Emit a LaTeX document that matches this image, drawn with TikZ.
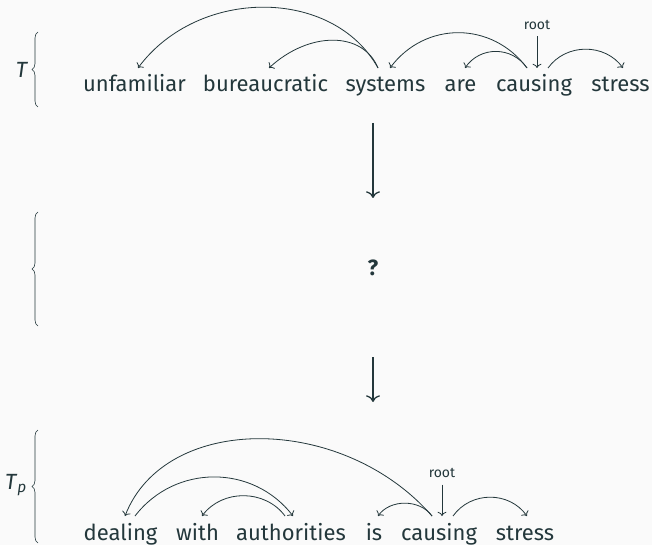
\documentclass[tikz,border=0pt]{standalone}
\usepackage{fontspec}
\setmainfont{Fira Sans}
\usetikzlibrary{calc,decorations.pathreplacing,arrows.meta}
\definecolor{fg}{HTML}{23373B}
\definecolor{bgc}{HTML}{FAFAFA}
\begin{document}
\begin{tikzpicture}[x=1pt,y=-1pt,
  every node/.style={text=fg},
  word/.style={font=\fontsize{22}{26}\selectfont, anchor=base, inner sep=0pt},
  small/.style={font=\fontsize{14}{16}\selectfont, anchor=base, inner sep=0pt},
  arc/.style={draw=fg, line width=0.8pt, -{To[scale=1.25]}},
  bigarr/.style={draw=fg, line width=1.3pt, -{To[scale=1.5]}},
  brc/.style={draw=fg, line width=0.6pt, decorate, decoration={brace, amplitude=6pt}}]
\fill[bgc] (0,0) rectangle (652,545);
\useasboundingbox (0,0) rectangle (652,545);

% top tree
\node[word] (unf) at (134.5,92) {unfamiliar};
\node[word] (bur) at (265.5,92) {bureaucratic};
\node[word] (sys) at (385.5,92) {systems};
\node[word] (are) at (460.5,92) {are};
\node[word] (cau) at (534,92) {causing};
\node[word] (str) at (620.5,92) {stress};
\node[small] (rt1) at (537,29.5) {root};

\draw[arc] ($(sys.base)+(-7.5,-24)$) .. controls +(-45,-81) and +(60,-81) .. ($(unf.base)+(3.5,-24)$);
\draw[arc] ($(sys.base)+(-7.5,-24)$) .. controls +(-15,-37) and +(40,-37) .. ($(bur.base)+(3.5,-24)$);
\draw[arc] ($(cau.base)+(-7,-24)$) .. controls +(-35,-47) and +(35,-47) .. ($(sys.base)+(4.5,-24)$);
\draw[arc] ($(cau.base)+(-7,-24)$) .. controls +(-15,-22) and +(15,-22) .. ($(are.base)+(4.5,-24)$);
\draw[arc] ($(cau.base)+(14,-24)$) .. controls +(18,-25) and +(-18,-25) .. ($(str.base)+(2.5,-24)$);
\draw[arc, shorten <=7pt] (rt1.base) -- ($(cau.base)+(3,-24)$);

% middle
\coordinate (a1s) at (373,123);
\coordinate (a1e) at (373,198);
\node[font=\fontsize{22}{26}\selectfont\bfseries, inner sep=0pt] (q) at (373,268) {?};
\coordinate (a2s) at (373,357);
\coordinate (a2e) at (373,402);
\draw[bigarr] (a1s) -- (a1e);
\draw[bigarr] (a2s) -- (a2e);

% bottom tree
\node[word] (deal) at (120.5,540) {dealing};
\node[word] (wth) at (197.5,540) {with};
\node[word] (auth) at (291,540) {authorities};
\node[word] (is) at (374,540) {is};
\node[word] (cau2) at (439,540) {causing};
\node[word] (str2) at (525,540) {stress};
\node[small] (rt2) at (442,477.5) {root};

\draw[arc] ($(cau2.base)+(-7,-24)$) .. controls +(-90,-103) and +(40,-103) .. ($(deal.base)+(4.5,-24)$);
\draw[arc] ($(deal.base)+(14.5,-24)$) .. controls +(40,-52) and +(-40,-52) .. ($(auth.base)+(2,-24)$);
\draw[arc] ($(auth.base)+(-6,-24)$) .. controls +(-20,-27) and +(20,-27) .. ($(wth.base)+(4.5,-24)$);
\draw[arc] ($(cau2.base)+(-7,-24)$) .. controls +(-12,-17) and +(12,-17) .. ($(is.base)+(4,-24)$);
\draw[arc] ($(cau2.base)+(14,-24)$) .. controls +(18,-25) and +(-18,-25) .. ($(str2.base)+(2,-24)$);
\draw[arc, shorten <=7pt] (rt2.base) -- ($(cau2.base)+(3,-24)$);

% braces and labels
\draw[brc] (38,107) -- (38,32);
\draw[brc] (38,326) -- (38,212);
\draw[brc] (38,543) -- (38,430);
\node[font=\fontsize{22}{26}\selectfont, inner sep=0pt] (tl) at (22,70) {\textit{T}};
\node[font=\fontsize{22}{26}\selectfont, inner sep=0pt] (tpl) at (16,485) {\textit{T}\textsubscript{\textit{p}}};
\end{tikzpicture}
\end{document}
